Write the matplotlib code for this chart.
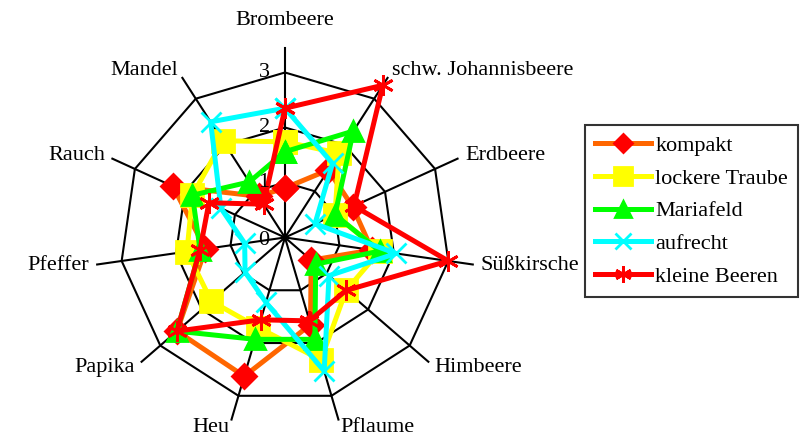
import numpy as np
import matplotlib.pyplot as plt

# Aroma attributes (clockwise from top)
attributes = ["Brombeere", "schw. Johannisbeere", "Erdbeere", "Süßkirsche",
              "Himbeere", "Pflaume", "Heu", "Papika", "Pfeffer", "Rauch", "Mandel"]

# Mean scores per clone type
kompakt = [0.9, 1.46, 1.35, 1.6, 0.63, 1.65, 2.63, 2.6, 1.46, 2.24, 0.89]
lockere_traube = [1.74, 1.82, 1.0, 1.74, 1.47, 2.32, 1.71, 1.77, 1.8, 1.85, 2.09]
mariafeld = [1.56, 2.3, 1.0, 1.74, 0.74, 1.93, 1.93, 2.6, 1.56, 1.85, 1.2]
aufrecht = [2.35, 1.6, 0.6, 2.04, 1.06, 2.53, 1.23, 0.96, 0.74, 1.28, 2.5]
kleine_beeren = [2.35, 3.29, 1.38, 3.0, 1.47, 1.58, 1.56, 2.6, 1.56, 1.52, 0.72]

ring_values = [1, 2, 3]
ring_labels = ["0", "1", "2", "3"]

plt.rcParams['font.family'] = ['Liberation Serif', 'DejaVu Serif']
fs = 16

n = len(attributes)
angles = np.arange(n) * 2 * np.pi / n
closed = np.append(angles, angles[0])

fig = plt.figure(figsize=(8.09, 4.36), dpi=100)
ax = fig.add_axes([0.1143, 0.0138, 0.4759, 0.883], projection='polar')
ax.set_theta_zero_location('N')
ax.set_theta_direction(-1)
ax.set_ylim(0, 3.5)
ax.grid(False)
ax.spines['polar'].set_visible(False)
ax.set_xticks([])
ax.set_yticks([])

# polygon grid
for r in ring_values:
    ax.plot(closed, [r] * (n + 1), color='black', linewidth=1.5, zorder=1)
for a in angles:
    ax.plot([a, a], [0, 3.45], color='black', linewidth=1.5, zorder=1, clip_on=False)

# scale labels left of the top axis
for i, lab in enumerate(ring_labels):
    ax.annotate(lab, xy=(0, i), xytext=(-15, 0 if i > 0 else -2),
                textcoords='offset points', fontsize=fs, ha='center', va='center',
                zorder=20)

# attribute labels
for a, name in zip(angles, attributes):
    s = np.sin(a)
    if abs(s) < 0.1:
        ax.text(a, 3.95, name, fontsize=fs, ha='center', va='center', clip_on=False)
    else:
        ax.text(a, 3.6, name, fontsize=fs, ha='left' if s > 0 else 'right',
                va='center', clip_on=False)

series = [
    ("kompakt", kompakt, '#FF6600', 'D', '#FF0000', 12),
    ("lockere Traube", lockere_traube, '#FFFF00', 's', '#FFFF00', 16),
    ("Mariafeld", mariafeld, '#00FF00', '^', '#00FF00', 14),
    ("aufrecht", aufrecht, '#00FFFF', 'x', '#00FFFF', 14),
    ("kleine Beeren", kleine_beeren, '#FF0000', (6, 2, 0), '#FF0000', 15),
]

for i, (name, vals, lc, mk, mc, ms) in enumerate(series):
    v = np.append(vals, vals[0])
    ax.plot(closed, v, color=lc, linewidth=3.6, marker=mk, markersize=ms,
            markerfacecolor=mc, markeredgecolor=mc, markeredgewidth=2,
            label=name, zorder=3 + i, clip_on=False)

leg = fig.legend(loc='center', bbox_to_anchor=(0.855, 0.516), fontsize=fs,
                 fancybox=False, edgecolor='black', handlelength=2.5,
                 labelspacing=0.55, borderpad=0.45, handletextpad=0.2,
                 markerscale=0.8)
leg.get_frame().set_linewidth(1.5)

plt.savefig("out.png", dpi=100)
